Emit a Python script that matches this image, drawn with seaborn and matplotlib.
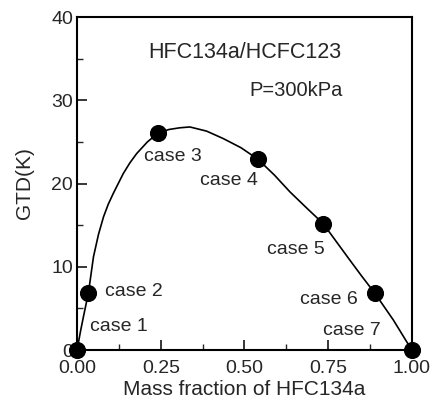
import numpy as np
import pandas as pd
import matplotlib
matplotlib.use('Agg')
import matplotlib.pyplot as plt
from matplotlib.ticker import MultipleLocator
import seaborn as sns

# case points
case_names = ['case 1', 'case 2', 'case 3', 'case 4', 'case 5', 'case 6', 'case 7']
case_x = [0.0, 0.034, 0.243, 0.541, 0.735, 0.89, 1.0]
case_gtd = [0.0, 6.9, 26.1, 22.9, 15.2, 6.8, 0.0]

# points
curve_x = [0.0, 0.01, 0.02, 0.034, 0.049, 0.064, 0.079, 0.093, 0.108, 0.138,
           0.158, 0.178, 0.21, 0.243, 0.275, 0.307, 0.337, 0.387, 0.437, 0.49,
           0.541, 0.59, 0.636, 0.685, 0.735, 0.775, 0.815, 0.85, 0.89, 0.945, 1.0]
curve_gtd = [0.0, 2.2, 4.2, 6.9, 11.2, 13.9, 16.0, 17.5, 18.8, 21.2,
             22.5, 23.6, 25.0, 26.1, 26.5, 26.7, 26.8, 26.3, 25.4, 24.3,
             22.9, 21.0, 19.0, 17.1, 15.2, 13.0, 10.8, 8.9, 6.8, 3.6, 0.0]

# label anchor positions (data coords)
label_x = [0.125, 0.17, 0.287, 0.454, 0.655, 0.752, 0.82]
label_y = [2.8, 7.0, 23.2, 20.4, 12.1, 6.1, 2.4]

sns.set_style('ticks')
plt.rcParams['font.family'] = ['Liberation Sans', 'DejaVu Sans']

fig = plt.figure(figsize=(4.33, 4.07), dpi=100)
ax = fig.add_axes([0.178, 0.14, 0.773, 0.818])

df_curve = pd.DataFrame({'x': curve_x, 'y': curve_gtd})
df_case = pd.DataFrame({'x': case_x, 'y': case_gtd, 'name': case_names})

sns.lineplot(data=df_curve, x='x', y='y', sort=False, color='black', lw=1.2, ax=ax)
sns.scatterplot(data=df_case, x='x', y='y', color='black', s=130, edgecolor='black',
                zorder=5, clip_on=False, ax=ax)

for name, lx, ly in zip(case_names, label_x, label_y):
	ax.text(lx, ly, name, ha='center', va='center', fontsize=14)

ax.text(0.5, 35.8, 'HFC134a/HCFC123', ha='center', va='center', fontsize=15.5)
ax.text(0.654, 31.2, 'P=300kPa', ha='center', va='center', fontsize=14.5)

ax.set_xlim(0, 1)
ax.set_ylim(0, 40)
ax.xaxis.set_major_locator(MultipleLocator(0.25))
ax.xaxis.set_minor_locator(MultipleLocator(0.125))
ax.yaxis.set_major_locator(MultipleLocator(10))
ax.yaxis.set_minor_locator(MultipleLocator(5))
ax.set_xticklabels([f'{v:.2f}' for v in ax.get_xticks()])
ax.tick_params(which='major', direction='in', length=7, width=1.3, labelsize=14)
ax.tick_params(which='minor', direction='in', length=4, width=1.0)
ax.tick_params(axis='x', pad=7)
ax.tick_params(axis='y', pad=3)

ax.set_xlabel('Mass fraction of HFC134a', fontsize=15, labelpad=2)
ax.set_ylabel('GTD(K)', fontsize=15, labelpad=12)

for sp in ax.spines.values():
	sp.set_visible(True)
	sp.set_linewidth(1.5)
	sp.set_color('black')

fig.savefig('out.png', dpi=100)
